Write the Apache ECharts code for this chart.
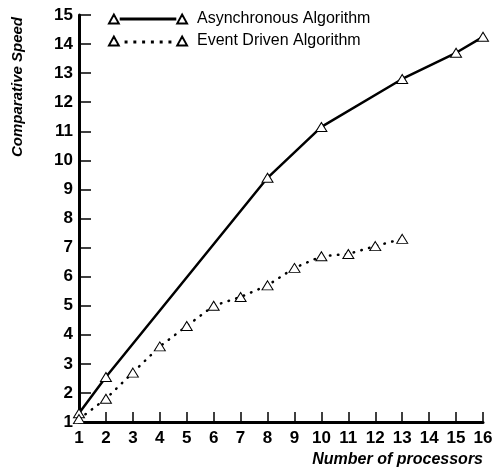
<!DOCTYPE html>
<html>
<head>
<meta charset="utf-8">
<script src="https://cdn.jsdelivr.net/npm/echarts@6/dist/echarts.min.js"></script>
<style>
  html, body { margin: 0; padding: 0; background: #fff; }
  #chart { width: 497px; height: 469px; }
</style>
</head>
<body>
<div id="chart"></div>
<script>
  // processors vs comparative speed
  const asyncData = [[1, 1.3], [2, 2.55], [8, 9.4], [10, 11.15], [13, 12.8], [15, 13.7], [16, 14.25]];
  const eventData = [[1, 1.1], [2, 1.8], [3, 2.7], [4, 3.6], [5, 4.3], [6, 5.0], [7, 5.3], [8, 5.7], [9, 6.3], [10, 6.7], [11, 6.78], [12, 7.05], [13, 7.3]];
  const seriesNames = ['Asynchronous Algorithm', 'Event Driven Algorithm'];

  // legend samples: triangle - line - triangle
  const tri = 'M0 11 L5 2 L10 11 Z M70 11 L75 2 L80 11 Z ';
  const solidIcon = 'path://' + tri + 'M12 6 L68 6 L68 7 L12 7 Z';
  const dottedIcon = 'path://' + tri +
    'M17 7 L18 7 L18 8 L17 8 Z M26 7 L27 7 L27 8 L26 8 Z M35 7 L36 7 L36 8 L35 8 Z ' +
    'M44 7 L45 7 L45 8 L44 8 Z M53 7 L54 7 L54 8 L53 8 Z M62 7 L63 7 L63 8 L62 8 Z';

  const chart = echarts.init(document.getElementById('chart'));

  const tickLabel = {
    color: '#000',
    fontFamily: 'Liberation Sans, Arial, sans-serif',
    fontWeight: 'bold',
    fontSize: 17
  };

  const op = {
    animation: false,
    grid: { left: 79, right: 14, top: 15, bottom: 47 },
    legend: {
      orient: 'vertical',
      left: 103,
      top: 6,
      itemWidth: 78,
      itemHeight: 11,
      itemGap: 6,
      textStyle: { color: '#000', fontFamily: 'Liberation Sans, Arial, sans-serif', fontSize: 16, padding: [0, 0, 0, 5] },
      data: [
        { name: seriesNames[0], icon: solidIcon },
        { name: seriesNames[1], icon: dottedIcon }
      ]
    },
    xAxis: {
      type: 'value',
      min: 1,
      max: 16,
      interval: 1,
      axisLine: { lineStyle: { color: '#000', width: 3 } },
      axisTick: { inside: true, length: 10, lineStyle: { color: '#000', width: 1.5 } },
      splitLine: { show: false },
      axisLabel: Object.assign({ margin: 8 }, tickLabel)
    },
    yAxis: {
      type: 'value',
      min: 1,
      max: 15,
      interval: 1,
      axisLine: { lineStyle: { color: '#000', width: 3 } },
      axisTick: { inside: true, length: 12, lineStyle: { color: '#000', width: 1.5 } },
      splitLine: { show: false },
      axisLabel: Object.assign({ margin: 6 }, tickLabel)
    },
    graphic: [
      {
        type: 'text',
        left: 10,
        top: 17,
        rotation: Math.PI / 2,
        style: {
          text: 'Comparative Speed',
          fill: '#000',
          font: 'italic bold 15px Liberation Sans, Arial, sans-serif'
        }
      },
      {
        type: 'text',
        right: 14,
        top: 452,
        style: {
          text: 'Number of processors',
          fill: '#000',
          font: 'italic bold 16px Liberation Sans, Arial, sans-serif'
        }
      }
    ],
    series: [
      {
        name: seriesNames[0],
        type: 'line',
        data: asyncData,
        symbol: 'triangle',
        symbolSize: [11, 9],
        showAllSymbol: true,
        itemStyle: { color: '#fff', borderColor: '#000', borderWidth: 1 },
        lineStyle: { color: '#000', width: 2.5 }
      },
      {
        name: seriesNames[1],
        type: 'line',
        data: eventData,
        symbol: 'triangle',
        symbolSize: [11, 9],
        showAllSymbol: true,
        itemStyle: { color: '#fff', borderColor: '#000', borderWidth: 1 },
        lineStyle: { color: '#000', width: 2.5, type: [0.5, 7.5], cap: 'round' }
      }
    ]
  };
  chart.setOption(op);
</script>
</body>
</html>
